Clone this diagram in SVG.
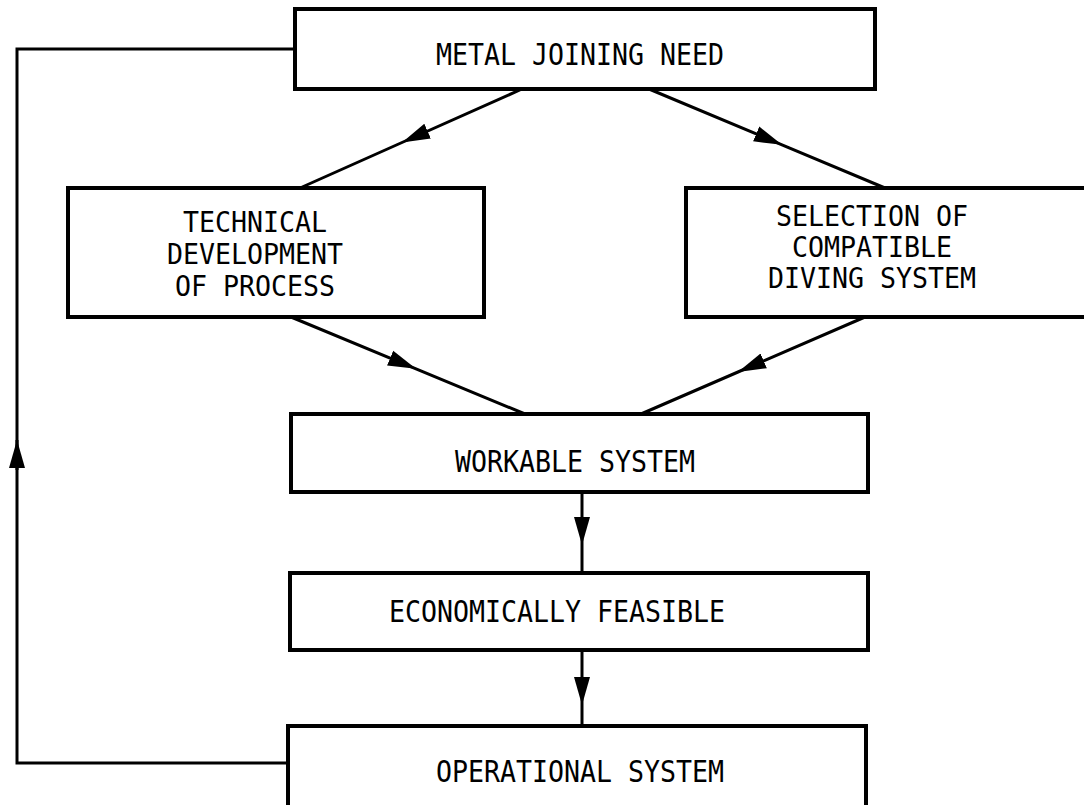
<svg xmlns="http://www.w3.org/2000/svg" width="1084" height="805" viewBox="0 0 1084 805">
<style>
.box{fill:#fff;stroke:#000;stroke-width:4}
.lbl{font-family:"DejaVu Sans Mono","Liberation Mono",monospace;font-size:26.6px;fill:#000;text-anchor:middle}
.con{fill:none;stroke:#000;stroke-width:3}
</style>
<defs>
<marker id="ah" markerUnits="userSpaceOnUse" viewBox="-28 -9 28 18" refX="0" refY="0" markerWidth="28" markerHeight="18" orient="auto">
<path d="M-28,-8 L0,0 L-28,8 Z" fill="#000"/>
</marker>
</defs>
<rect width="1084" height="805" fill="#fff"/>
<g id="connectors">
<path class="con" d="M522,89 L402,142.5 L300,188" marker-mid="url(#ah)"/>
<path class="con" d="M649,89 L782,144.8 L885,188" marker-mid="url(#ah)"/>
<path class="con" d="M291,317 L416,368.8 L525,414" marker-mid="url(#ah)"/>
<path class="con" d="M865,317 L738,372 L641,414" marker-mid="url(#ah)"/>
<path class="con" d="M582,492 L582,545 L582,573" marker-mid="url(#ah)"/>
<path class="con" d="M582,650 L582,705 L582,726" marker-mid="url(#ah)"/>
<g id="feedback">
<path class="con" d="M290,763 L17,763 L17,49 L295,49"/>
<path class="con" d="M17,470 L17,440" marker-end="url(#ah)"/>
</g>
</g>
<g id="metal-joining-need">
<rect class="box" x="295" y="9" width="580" height="80"/>
<text class="lbl" transform="translate(580 65) scale(1 1.1)">METAL JOINING NEED</text>
</g>
<g id="technical-development">
<rect class="box" x="68" y="188" width="416" height="129"/>
<text class="lbl" transform="translate(255 232) scale(1 1.05)">TECHNICAL</text>
<text class="lbl" transform="translate(255 264) scale(1 1.05)">DEVELOPMENT</text>
<text class="lbl" transform="translate(255 296) scale(1 1.05)">OF PROCESS</text>
</g>
<g id="selection-diving-system">
<rect class="box" x="686" y="188" width="410" height="129"/>
<text class="lbl" transform="translate(872 226) scale(1 1.05)">SELECTION OF</text>
<text class="lbl" transform="translate(872 257) scale(1 1.05)">COMPATIBLE</text>
<text class="lbl" transform="translate(872 288) scale(1 1.05)">DIVING SYSTEM</text>
</g>
<g id="workable-system">
<rect class="box" x="291" y="414" width="577" height="78"/>
<text class="lbl" transform="translate(575 472) scale(1 1.1)">WORKABLE SYSTEM</text>
</g>
<g id="economically-feasible">
<rect class="box" x="290" y="573" width="578" height="77"/>
<text class="lbl" transform="translate(557 622) scale(1 1.1)">ECONOMICALLY FEASIBLE</text>
</g>
<g id="operational-system">
<rect class="box" x="288" y="726" width="578" height="100"/>
<text class="lbl" transform="translate(580 782) scale(1 1.1)">OPERATIONAL SYSTEM</text>
</g>
</svg>
